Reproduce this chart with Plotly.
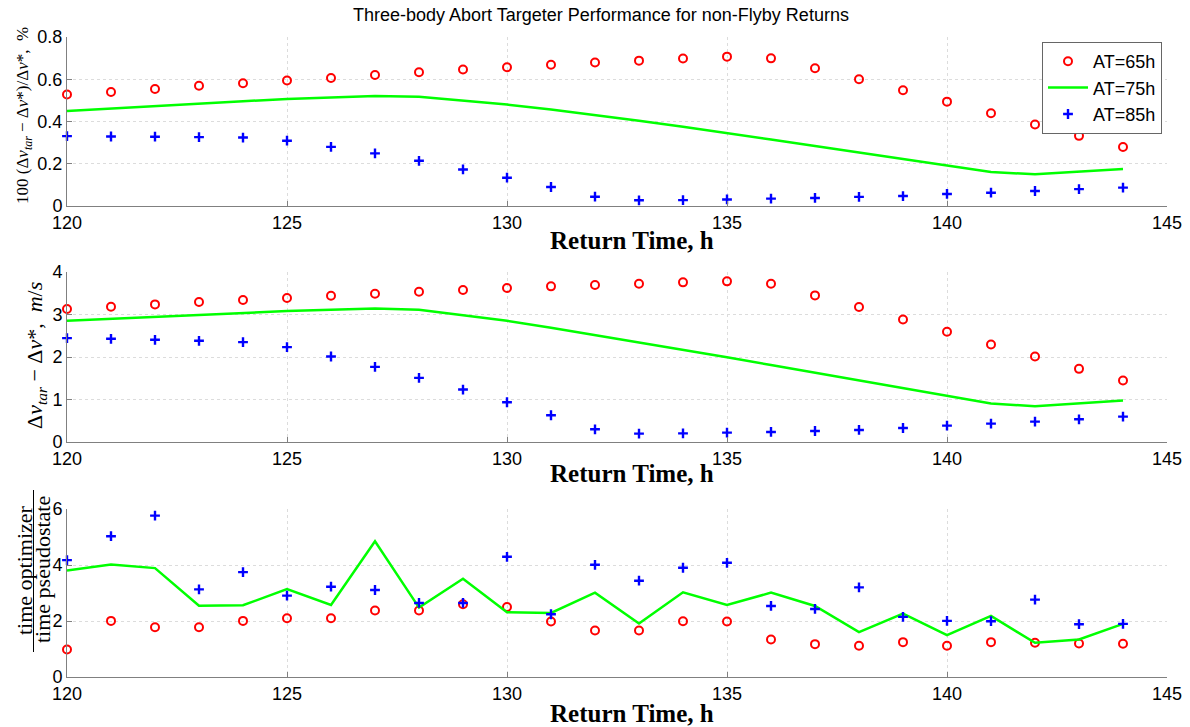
import plotly.graph_objects as go

# ---------------- data ----------------
return_time = list(range(120, 145))

pct_at65 = [0.528, 0.540, 0.554, 0.569, 0.581, 0.594, 0.606, 0.620, 0.633, 0.646,
            0.657, 0.669, 0.679, 0.688, 0.698, 0.707, 0.699, 0.652, 0.600, 0.548,
            0.494, 0.439, 0.386, 0.332, 0.279]
pct_at75 = [0.450, 0.462, 0.474, 0.485, 0.496, 0.506, 0.514, 0.521, 0.517, 0.500,
            0.480, 0.457, 0.432, 0.404, 0.375, 0.346, 0.315, 0.284, 0.253, 0.222,
            0.191, 0.161, 0.150, 0.162, 0.175]
pct_at85 = [0.331, 0.329, 0.328, 0.326, 0.324, 0.309, 0.280, 0.249, 0.214, 0.173,
            0.134, 0.090, 0.044, 0.027, 0.028, 0.031, 0.035, 0.038, 0.043, 0.047,
            0.057, 0.063, 0.071, 0.080, 0.087]

dv_at65 = [3.128, 3.183, 3.238, 3.293, 3.340, 3.387, 3.442, 3.489, 3.536, 3.576,
           3.623, 3.662, 3.694, 3.725, 3.756, 3.780, 3.725, 3.450, 3.175, 2.884,
           2.593, 2.295, 2.012, 1.721, 1.446]
dv_at75 = [2.853, 2.900, 2.940, 2.990, 3.040, 3.081, 3.110, 3.143, 3.112, 2.980,
           2.853, 2.690, 2.520, 2.350, 2.170, 1.996, 1.810, 1.630, 1.450, 1.270,
           1.084, 0.904, 0.841, 0.910, 0.974]
dv_at85 = [2.444, 2.428, 2.405, 2.381, 2.350, 2.232, 2.012, 1.768, 1.509, 1.234,
           0.935, 0.629, 0.299, 0.196, 0.204, 0.220, 0.236, 0.259, 0.283, 0.330,
           0.385, 0.432, 0.479, 0.534, 0.597]

tr_at65 = [0.984, 2.004, 1.779, 1.779, 2.004, 2.099, 2.099, 2.372, 2.372, 2.597,
           2.502, 1.980, 1.660, 1.660, 1.992, 1.980, 1.340, 1.174, 1.115, 1.245,
           1.115, 1.245, 1.221, 1.198, 1.186]
tr_at75 = [3.806, 4.020, 3.889, 2.549, 2.561, 3.142, 2.573, 4.850, 2.478, 3.510,
           2.312, 2.289, 3.012, 1.909, 3.024, 2.573, 3.012, 2.538, 1.601, 2.265,
           1.494, 2.182, 1.221, 1.340, 1.897]
tr_at85 = [4.174, 5.028, 5.763, 3.131, 3.747, 2.905, 3.225, 3.107, 2.644, 2.644,
           4.293, 2.241, 4.008, 3.439, 3.901, 4.079, 2.538, 2.431, 3.202, 2.146,
           2.004, 1.992, 2.763, 1.885, 1.897]

series_names = ["AT=65h", "AT=75h", "AT=85h"]
x_ticks = [120, 125, 130, 135, 140, 145]

# ---------------- figure ----------------
W, H = 1190, 727
fig = go.Figure()

panels = [
    (pct_at65, pct_at75, pct_at85, "x", "y"),
    (dv_at65, dv_at75, dv_at85, "x2", "y2"),
    (tr_at65, tr_at75, tr_at85, "x3", "y3"),
]
for i, (a65, a75, a85, xa, ya) in enumerate(panels):
    first = i == 0
    fig.add_trace(go.Scatter(
        x=return_time, y=a65, mode="markers", name=series_names[0],
        xaxis=xa, yaxis=ya, showlegend=first, cliponaxis=False,
        marker=dict(symbol="circle-open", size=8, color="#ff0000",
                    line=dict(width=2, color="#ff0000"))))
    fig.add_trace(go.Scatter(
        x=return_time, y=a75, mode="lines", name=series_names[1],
        xaxis=xa, yaxis=ya, showlegend=first,
        line=dict(color="#00ff00", width=2.5)))
    fig.add_trace(go.Scatter(
        x=return_time, y=a85, mode="markers", name=series_names[2],
        xaxis=xa, yaxis=ya, showlegend=first, cliponaxis=False,
        marker=dict(symbol="cross-thin", size=7, color="#0000ff",
                    line=dict(width=2.4, color="#0000ff"))))

x0, x1 = 67 / W, 1167 / W
ydoms = [(1 - 206 / H, 1 - 37 / H), (1 - 442 / H, 1 - 272 / H), (1 - 677 / H, 1 - 509 / H)]
yranges = [([0, 0.8], 0.2), ([0, 4], 1), ([0, 6], 2)]

tickfont = dict(family="Liberation Sans, Arial, sans-serif", size=18, color="black")
common = dict(showline=True, linecolor="#808080", linewidth=1, mirror=False,
              ticks="inside", ticklen=5, tickcolor="#808080",
              showgrid=True, gridcolor="#dcdcdc", griddash="dot", gridwidth=1,
              zeroline=False, tickfont=tickfont, automargin=False)

layout = dict(width=W, height=H,
              margin=dict(l=0, r=0, t=0, b=0, pad=0, autoexpand=False),
              paper_bgcolor="white", plot_bgcolor="white", showlegend=True)
for i in range(3):
    sfx = "" if i == 0 else str(i + 1)
    layout["xaxis" + sfx] = dict(domain=[x0, x1], range=[120, 145], tickvals=x_ticks,
                                 anchor="y" + sfx, **common)
    layout["yaxis" + sfx] = dict(domain=list(ydoms[i]), range=yranges[i][0],
                                 dtick=yranges[i][1], tick0=0, anchor="x" + sfx, **common)
fig.update_layout(**layout)

fig.update_layout(legend=dict(
    x=1162 / W, xanchor="right", y=1 - 42 / H, yanchor="top",
    bgcolor="white", bordercolor="#666666", borderwidth=1,
    font=dict(family="Liberation Sans, Arial, sans-serif", size=18, color="black"),
    tracegroupgap=0, itemwidth=40))

serif = "Liberation Serif, Times New Roman, serif"


def note(text, xc, yc, size, angle=0, family=serif):
    return dict(text=text, x=xc / W, y=1 - yc / H, xref="paper", yref="paper",
                xanchor="center", yanchor="middle", showarrow=False, textangle=angle,
                font=dict(family=family, size=size, color="black"))


ann = [note("Three-body Abort Targeter Performance for non-Flyby Returns", 601, 15, 18,
            family="Liberation Sans, Arial, sans-serif")]
for yc in (240, 473, 713):
    ann.append(note("<b>Return Time, h</b>", 632, yc, 25))
ann.append(note("100 (Δ<i>v<sub>tar</sub></i> − Δ<i>v</i>*)/Δ<i>v</i>*,  %", 24, 116, 17, -90))
ann.append(note("Δ<i>v<sub>tar</sub></i> − Δ<i>v</i>*,  <i>m</i>/<i>s</i>", 36, 356, 22, -90))
ann.append(note("time optimizer", 24, 570, 22, -90))
ann.append(note("time pseudostate", 42, 570, 22, -90))
fig.update_layout(annotations=ann)
fig.add_shape(type="line", xref="paper", yref="paper", x0=33.5 / W, x1=33.5 / W,
              y0=1 - 490 / H, y1=1 - 652 / H, line=dict(color="black", width=1))

fig.write_html("out.html")
